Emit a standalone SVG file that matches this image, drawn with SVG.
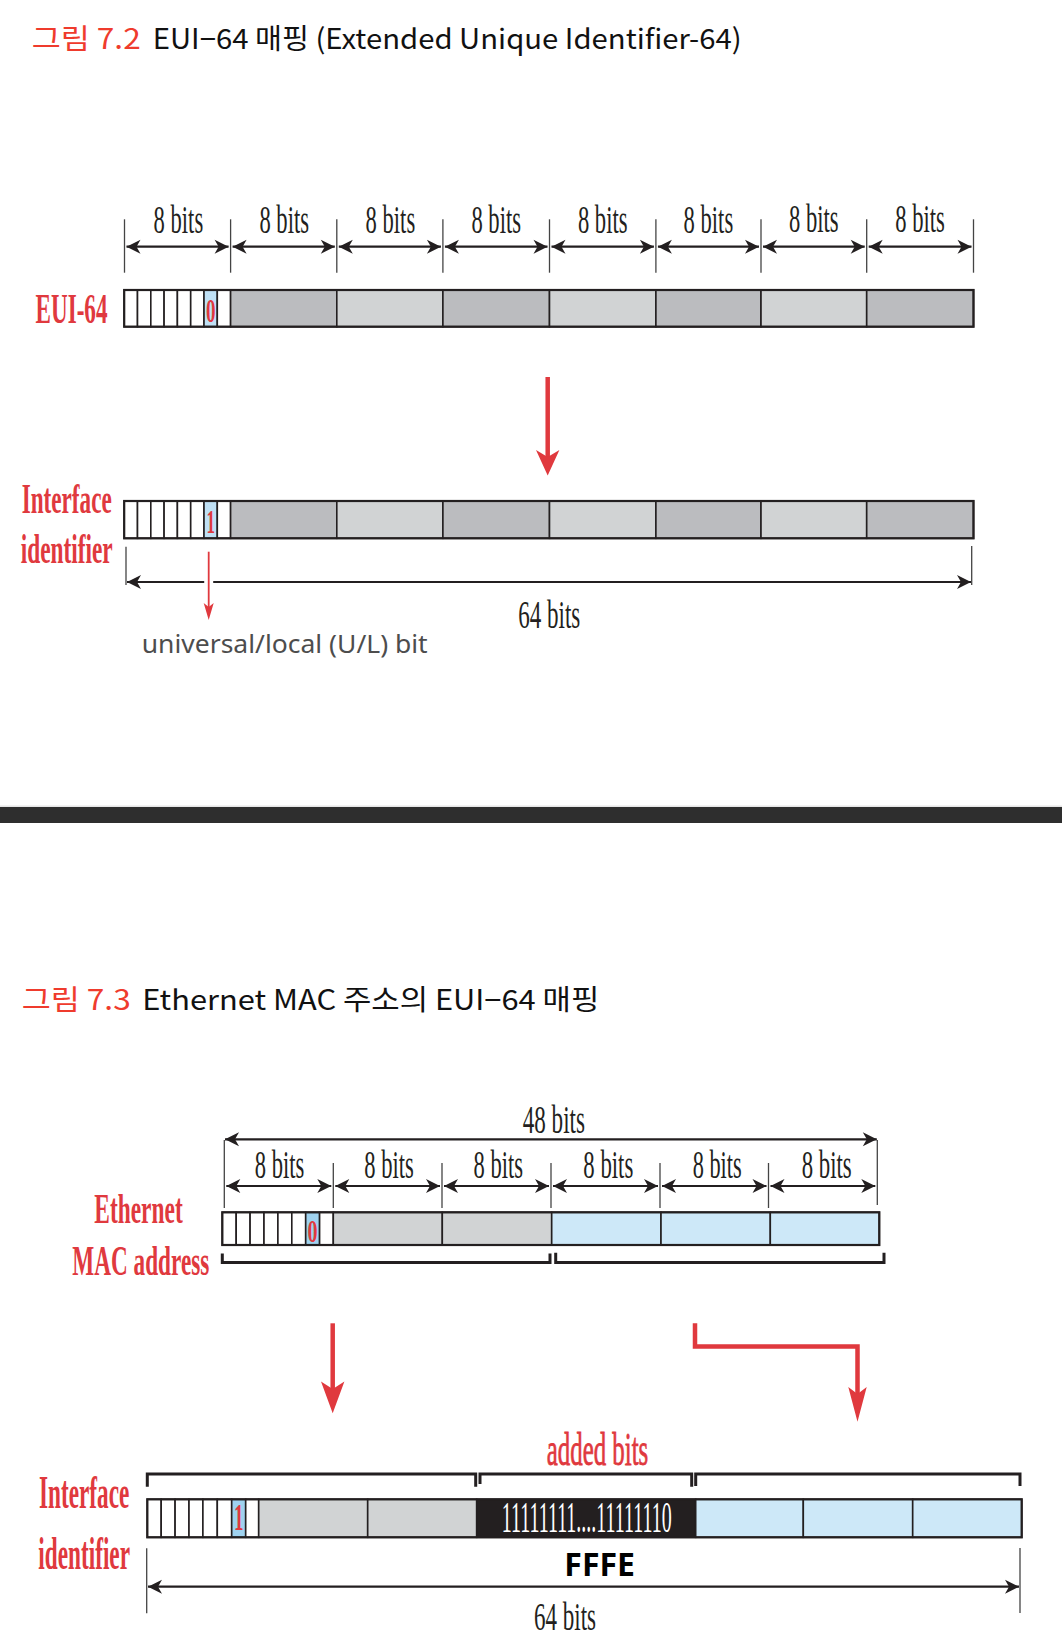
<svg xmlns="http://www.w3.org/2000/svg" width="1062" height="1651" viewBox="0 0 1062 1651">
<style>
.title{font-family:"Noto Sans CJK KR","Noto Sans",sans-serif;font-size:28px}
.tr{fill:#ef3b2d}
.tb{fill:#111}
.lbl{font-family:"Liberation Serif","Times New Roman",serif;font-weight:bold;fill:#e0393e}
.bits{font-family:"Liberation Serif","Times New Roman",serif;font-size:39px;fill:#231f20;text-anchor:middle}
.big{font-family:"Liberation Serif","Times New Roman",serif;font-size:41px;fill:#231f20}
.bitv{font-family:"Liberation Serif","Times New Roman",serif;font-weight:bold;fill:#e0393e;text-anchor:middle}
.tick{stroke:#444;stroke-width:1.3;fill:none}
.dim{stroke:#231f20;stroke-width:2.2;fill:none;marker-start:url(#ah);marker-end:url(#ah)}
.bar{stroke:#231f20;stroke-width:2.2}
.cell{fill:#fff;stroke:#231f20;stroke-width:1.6}
.g1{fill:#bbbcbf;stroke:#231f20;stroke-width:1.6}
.g2{fill:#d1d3d4;stroke:#231f20;stroke-width:1.6}
.bl{fill:#cde8f8;stroke:#231f20;stroke-width:1.6}
.bc{fill:#bfe0f5;stroke:#231f20;stroke-width:1.6}
.bc2{fill:#9fd2ef;stroke:#231f20;stroke-width:1.6}
.brk{stroke:#231f20;stroke-width:3;fill:none}
.red{stroke:#e0393e;fill:none}
.redf{fill:#e0393e}
</style>
<defs>
<marker id="ah" viewBox="-15 -8 16 16" refX="0" refY="0" markerWidth="16" markerHeight="16" markerUnits="userSpaceOnUse" orient="auto-start-reverse">
<path d="M0,0 L-14,-7 L-10,0 L-14,7 z" fill="#231f20"/>
</marker>
</defs>
<rect width="1062" height="1651" fill="#fff"/>

<!-- Titles -->
<g id="title1">
<text class="title tr" x="31.7" y="48.5" textLength="109" lengthAdjust="spacingAndGlyphs">그림 7.2</text>
<text class="title tb" x="152.7" y="48.5" textLength="589" lengthAdjust="spacingAndGlyphs">EUI−64 매핑 (Extended Unique Identifier-64)</text>
</g>

<!-- Figure 7.2 -->
<g id="eui64-label"><text class="lbl" x="35.5" y="323.3" font-size="42" textLength="72" lengthAdjust="spacingAndGlyphs">EUI-64</text></g>

<g id="eui64-dims">
<g class="tick">
<line x1="124.5" y1="219.3" x2="124.5" y2="272.7"/>
<line x1="230.6" y1="219.3" x2="230.6" y2="272.7"/>
<line x1="336.8" y1="219.3" x2="336.8" y2="272.7"/>
<line x1="442.9" y1="219.3" x2="442.9" y2="272.7"/>
<line x1="549.5" y1="219.3" x2="549.5" y2="272.7"/>
<line x1="655.9" y1="219.3" x2="655.9" y2="272.7"/>
<line x1="761.0" y1="219.3" x2="761.0" y2="272.7"/>
<line x1="866.7" y1="219.3" x2="866.7" y2="272.7"/>
<line x1="973.5" y1="219.3" x2="973.5" y2="272.7"/>
</g>
<text class="bits" x="178.4" y="233.3" textLength="49.6" lengthAdjust="spacingAndGlyphs">8 bits</text>
<text class="bits" x="284.2" y="233.3" textLength="49.6" lengthAdjust="spacingAndGlyphs">8 bits</text>
<text class="bits" x="390.4" y="233.3" textLength="49.6" lengthAdjust="spacingAndGlyphs">8 bits</text>
<text class="bits" x="496.2" y="233.3" textLength="49.6" lengthAdjust="spacingAndGlyphs">8 bits</text>
<text class="bits" x="602.7" y="233.3" textLength="49.6" lengthAdjust="spacingAndGlyphs">8 bits</text>
<text class="bits" x="708.4" y="233.3" textLength="49.6" lengthAdjust="spacingAndGlyphs">8 bits</text>
<text class="bits" x="813.8" y="231.7" textLength="49.6" lengthAdjust="spacingAndGlyphs">8 bits</text>
<text class="bits" x="920.1" y="231.7" textLength="49.6" lengthAdjust="spacingAndGlyphs">8 bits</text>
</g>

<g id="eui64-bar">
<rect class="cell" x="124.2" y="290" width="13.3" height="36.7"/>
<rect class="cell" x="137.5" y="290" width="13.3" height="36.7"/>
<rect class="cell" x="150.8" y="290" width="13.3" height="36.7"/>
<rect class="cell" x="164.1" y="290" width="13.3" height="36.7"/>
<rect class="cell" x="177.4" y="290" width="13.3" height="36.7"/>
<rect class="cell" x="190.7" y="290" width="13.3" height="36.7"/>
<rect class="bc" x="204.0" y="290" width="13.3" height="36.7"/>
<rect class="cell" x="217.3" y="290" width="13.3" height="36.7"/>
<rect class="g1" x="230.6" y="290" width="106.2" height="36.7"/>
<rect class="g2" x="336.8" y="290" width="106.1" height="36.7"/>
<rect class="g1" x="442.9" y="290" width="106.6" height="36.7"/>
<rect class="g2" x="549.5" y="290" width="106.4" height="36.7"/>
<rect class="g1" x="655.9" y="290" width="105.1" height="36.7"/>
<rect class="g2" x="761.0" y="290" width="105.7" height="36.7"/>
<rect class="g1" x="866.7" y="290" width="106.8" height="36.7"/>
<rect class="bar" x="124.2" y="290" width="849.3" height="36.7" fill="none"/>
<text class="bitv" x="210.7" y="321.5" font-size="34" textLength="9.5" lengthAdjust="spacingAndGlyphs">0</text>
</g>

<g id="iid1-label">
<text class="lbl" x="21.7" y="512.7" font-size="42" textLength="90" lengthAdjust="spacingAndGlyphs">Interface</text>
<text class="lbl" x="20.7" y="563.3" font-size="42" textLength="92" lengthAdjust="spacingAndGlyphs">identifier</text>
</g>

<g id="iid1-bar">
<rect class="cell" x="124.2" y="501" width="13.3" height="37.3"/>
<rect class="cell" x="137.5" y="501" width="13.3" height="37.3"/>
<rect class="cell" x="150.8" y="501" width="13.3" height="37.3"/>
<rect class="cell" x="164.1" y="501" width="13.3" height="37.3"/>
<rect class="cell" x="177.4" y="501" width="13.3" height="37.3"/>
<rect class="cell" x="190.7" y="501" width="13.3" height="37.3"/>
<rect class="bc" x="204.0" y="501" width="13.3" height="37.3"/>
<rect class="cell" x="217.3" y="501" width="13.3" height="37.3"/>
<rect class="g1" x="230.6" y="501" width="106.2" height="37.3"/>
<rect class="g2" x="336.8" y="501" width="106.1" height="37.3"/>
<rect class="g1" x="442.9" y="501" width="106.6" height="37.3"/>
<rect class="g2" x="549.5" y="501" width="106.4" height="37.3"/>
<rect class="g1" x="655.9" y="501" width="105.1" height="37.3"/>
<rect class="g2" x="761.0" y="501" width="105.7" height="37.3"/>
<rect class="g1" x="866.7" y="501" width="106.8" height="37.3"/>
<rect class="bar" x="124.2" y="501" width="849.3" height="37.3" fill="none"/>
<text class="bitv" x="210.7" y="532.7" font-size="34" textLength="8.5" lengthAdjust="spacingAndGlyphs">1</text>
</g>

<g id="iid1-dims">
<line class="tick" x1="126" y1="546.7" x2="126" y2="585"/>
<line class="tick" x1="971.7" y1="546" x2="971.7" y2="585"/>
<text class="big" x="518.3" y="628.3" textLength="62" lengthAdjust="spacingAndGlyphs">64 bits</text>
</g>

<g id="ul-label">
<text x="141.7" y="653" font-family="'Noto Sans','Noto Sans CJK KR',sans-serif" font-size="25" fill="#4d4d4d" textLength="286" lengthAdjust="spacingAndGlyphs">universal/local (U/L) bit</text>
</g>

<!-- Separator -->
<rect x="0" y="805.5" width="1062" height="1.5" fill="#e6e6e6"/>
<rect x="0" y="807" width="1062" height="16" fill="#2e2e2e"/>

<g id="title2">
<text class="title tr" x="21.7" y="1010" textLength="109" lengthAdjust="spacingAndGlyphs">그림 7.3</text>
<text class="title tb" x="142.3" y="1010" textLength="457" lengthAdjust="spacingAndGlyphs">Ethernet MAC 주소의 EUI−64 매핑</text>
</g>

<!-- Figure 7.3 -->
<g id="mac-label">
<text class="lbl" x="94.3" y="1222.7" font-size="43" textLength="88.4" lengthAdjust="spacingAndGlyphs">Ethernet</text>
<text class="lbl" x="72.3" y="1275" font-size="43" textLength="137" lengthAdjust="spacingAndGlyphs">MAC address</text>
</g>

<g id="mac-dims">
<g class="tick">
<line x1="224.3" y1="1140" x2="224.3" y2="1208"/>
<line x1="333.3" y1="1163" x2="333.3" y2="1208"/>
<line x1="442.0" y1="1163" x2="442.0" y2="1208"/>
<line x1="551.0" y1="1163" x2="551.0" y2="1208"/>
<line x1="660.0" y1="1163" x2="660.0" y2="1208"/>
<line x1="768.5" y1="1163" x2="768.5" y2="1208"/>
<line x1="877.3" y1="1140" x2="877.3" y2="1205"/>
</g>
<text class="big" x="522.7" y="1133.3" textLength="62.3" lengthAdjust="spacingAndGlyphs">48 bits</text>
<text class="bits" x="279.5" y="1178.3" textLength="49.5" lengthAdjust="spacingAndGlyphs">8 bits</text>
<text class="bits" x="389.0" y="1178.3" textLength="49.5" lengthAdjust="spacingAndGlyphs">8 bits</text>
<text class="bits" x="498.3" y="1178.3" textLength="49.5" lengthAdjust="spacingAndGlyphs">8 bits</text>
<text class="bits" x="608.3" y="1178.3" textLength="50" lengthAdjust="spacingAndGlyphs">8 bits</text>
<text class="bits" x="717.2" y="1178.3" textLength="49" lengthAdjust="spacingAndGlyphs">8 bits</text>
<text class="bits" x="826.7" y="1178.3" textLength="50" lengthAdjust="spacingAndGlyphs">8 bits</text>
</g>

<g id="mac-bar">
<rect class="cell" x="222.3" y="1212.3" width="13.9" height="32.7"/>
<rect class="cell" x="236.2" y="1212.3" width="13.9" height="32.7"/>
<rect class="cell" x="250.1" y="1212.3" width="13.9" height="32.7"/>
<rect class="cell" x="264.0" y="1212.3" width="13.9" height="32.7"/>
<rect class="cell" x="277.9" y="1212.3" width="13.9" height="32.7"/>
<rect class="cell" x="291.8" y="1212.3" width="13.9" height="32.7"/>
<rect class="bc2" x="305.7" y="1212.3" width="13.9" height="32.7"/>
<rect class="cell" x="319.6" y="1212.3" width="13.7" height="32.7"/>
<rect class="g2" x="333.3" y="1212.3" width="109" height="32.7"/>
<rect class="g2" x="442.3" y="1212.3" width="109.4" height="32.7"/>
<rect class="bl" x="551.7" y="1212.3" width="109.3" height="32.7"/>
<rect class="bl" x="661.0" y="1212.3" width="109.3" height="32.7"/>
<rect class="bl" x="770.3" y="1212.3" width="109" height="32.7"/>
<rect class="bar" x="222.3" y="1212.3" width="657" height="32.7" fill="none"/>
<text class="bitv" x="312.6" y="1242" font-size="31" textLength="10" lengthAdjust="spacingAndGlyphs">0</text>
</g>

<g id="mac-brackets">
<path class="brk" d="M222.3,1253.5 V1262.5 H550 V1253.5"/>
<path class="brk" d="M555.7,1252.7 V1262.5 H884 V1252.7"/>
</g>

<g id="added-label">
<text x="546.7" y="1465" font-family="'Liberation Serif','Times New Roman',serif" font-size="46" fill="#e0393e" stroke="#e0393e" stroke-width="0.8" textLength="101.6" lengthAdjust="spacingAndGlyphs">added bits</text>
</g>

<g id="iid2-label">
<text class="lbl" x="39" y="1508.3" font-size="46" textLength="90.3" lengthAdjust="spacingAndGlyphs">Interface</text>
<text class="lbl" x="38.3" y="1569.3" font-size="46" textLength="91.7" lengthAdjust="spacingAndGlyphs">identifier</text>
</g>

<g id="iid2-brackets">
<path class="brk" d="M147.3,1486.7 V1474 H475.7 V1486.7"/>
<path class="brk" d="M480,1484 V1474 H691.7 V1486.7"/>
<path class="brk" d="M695.7,1486 V1474 H1020 V1486"/>
</g>

<g id="iid2-bar">
<rect class="cell" x="147.3" y="1499.3" width="13.9" height="38"/>
<rect class="cell" x="161.2" y="1499.3" width="13.9" height="38"/>
<rect class="cell" x="175.1" y="1499.3" width="13.9" height="38"/>
<rect class="cell" x="189.0" y="1499.3" width="13.9" height="38"/>
<rect class="cell" x="202.9" y="1499.3" width="14.4" height="38"/>
<rect class="cell" x="217.3" y="1499.3" width="14.4" height="38"/>
<rect class="bc2" x="231.7" y="1499.3" width="14" height="38"/>
<rect class="cell" x="245.7" y="1499.3" width="13" height="38"/>
<rect class="g2" x="258.7" y="1499.3" width="109" height="38"/>
<rect class="g2" x="367.7" y="1499.3" width="109" height="38"/>
<rect x="476.7" y="1499.3" width="219" height="38" fill="#231f20" stroke="#231f20" stroke-width="1.6"/>
<rect class="bl" x="695.7" y="1499.3" width="107.6" height="38"/>
<rect class="bl" x="803.3" y="1499.3" width="109.4" height="38"/>
<rect class="bl" x="912.7" y="1499.3" width="109" height="38"/>
<rect class="bar" x="147.3" y="1499.3" width="874.4" height="38" fill="none"/>
<text class="bitv" x="238.7" y="1530" font-size="38" textLength="9.5" lengthAdjust="spacingAndGlyphs">1</text>
<text x="501.7" y="1531.7" font-family="'Liberation Serif','Times New Roman',serif" font-size="45" fill="#fff" textLength="170" lengthAdjust="spacingAndGlyphs">11111111....11111110</text>
</g>

<g id="iid2-dims">
<line class="tick" x1="146.7" y1="1548.3" x2="146.7" y2="1613.3"/>
<line class="tick" x1="1020" y1="1548" x2="1020" y2="1613"/>
<text x="564.3" y="1576" font-family="'Noto Sans','DejaVu Sans',sans-serif" font-weight="bold" font-size="32" fill="#000" textLength="70.7" lengthAdjust="spacingAndGlyphs">FFFE</text>
<text class="big" x="534" y="1630" textLength="62" lengthAdjust="spacingAndGlyphs">64 bits</text>
</g>

<!-- Connectors -->
<g id="connectors">
<line class="dim" x1="126.5" y1="246.7" x2="228.6" y2="246.7"/>
<line class="dim" x1="232.6" y1="246.7" x2="334.8" y2="246.7"/>
<line class="dim" x1="338.8" y1="246.7" x2="440.9" y2="246.7"/>
<line class="dim" x1="444.9" y1="246.7" x2="547.5" y2="246.7"/>
<line class="dim" x1="551.5" y1="246.7" x2="653.9" y2="246.7"/>
<line class="dim" x1="657.9" y1="246.7" x2="759.0" y2="246.7"/>
<line class="dim" x1="763.0" y1="246.7" x2="864.7" y2="246.7"/>
<line class="dim" x1="868.7" y1="246.7" x2="971.5" y2="246.7"/>

<line class="dim" x1="127" y1="582" x2="971" y2="582"/>
<line x1="208.7" y1="574" x2="208.7" y2="590" stroke="#fff" stroke-width="9"/>
<line class="red" x1="208.7" y1="551.7" x2="208.7" y2="608" stroke-width="1.8"/>
<path class="redf" d="M203.7,603 L208.7,620 L213.7,603 L208.7,607 z"/>

<line class="red" x1="547.7" y1="377" x2="547.7" y2="458" stroke-width="4.5"/>
<path class="redf" d="M536,450 L547.7,475.5 L559.4,450 L547.7,457 z"/>

<line class="dim" x1="225" y1="1139.3" x2="876.8" y2="1139.3"/>
<line class="dim" x1="226.3" y1="1186" x2="331.3" y2="1186"/>
<line class="dim" x1="335.3" y1="1186" x2="440" y2="1186"/>
<line class="dim" x1="444" y1="1186" x2="549" y2="1186"/>
<line class="dim" x1="553" y1="1186" x2="658" y2="1186"/>
<line class="dim" x1="662" y1="1186" x2="766.5" y2="1186"/>
<line class="dim" x1="770.5" y1="1186" x2="875.3" y2="1186"/>

<line class="red" x1="332.7" y1="1323.3" x2="332.7" y2="1390" stroke-width="4.5"/>
<path class="redf" d="M321,1381.5 L332.7,1413.3 L344.4,1381.5 L332.7,1389 z"/>

<polyline class="red" points="695,1323.3 695,1346.5 857.5,1346.5 857.5,1396" stroke-width="4.5"/>
<path class="redf" d="M848.3,1387 L857.5,1421.7 L866.7,1387 L857.5,1394 z"/>

<line class="dim" x1="148" y1="1586.7" x2="1019" y2="1586.7"/>
</g>
</svg>
